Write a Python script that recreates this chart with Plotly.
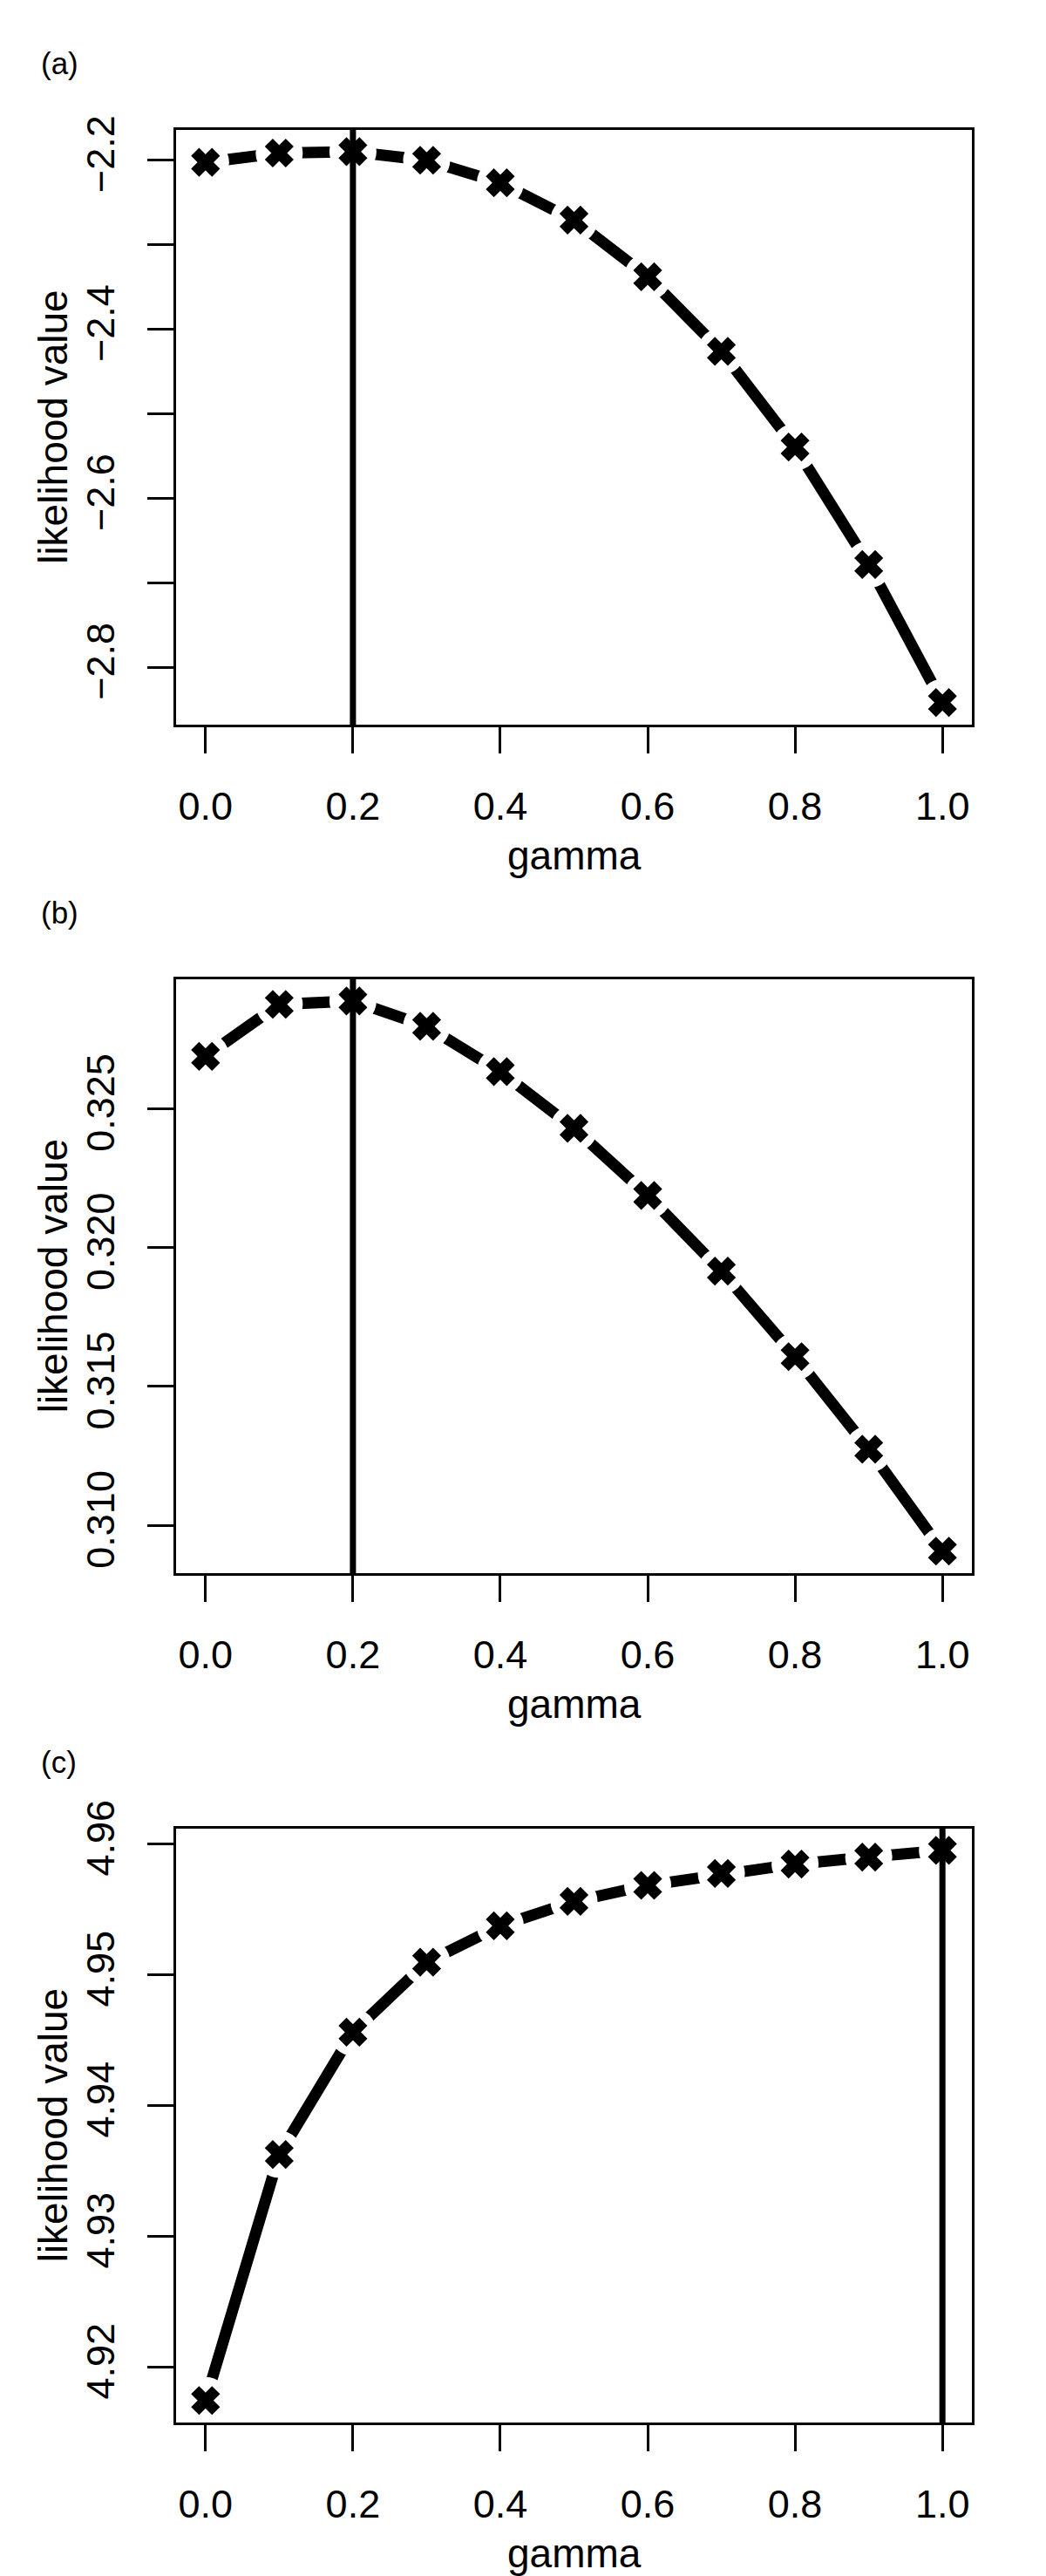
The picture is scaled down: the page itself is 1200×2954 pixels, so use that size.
"""Likelihood value against gamma for three data sets, R-style base graphics look."""

import plotly.graph_objects as go

# gamma grid
GAMMA = [0.0, 0.1, 0.2, 0.3, 0.4, 0.5, 0.6, 0.7, 0.8, 0.9, 1.0]

# likelihood values
LIK_A = [-2.2028, -2.1918, -2.1902, -2.2003, -2.2270, -2.2711, -2.3382, -2.4263, -2.5395, -2.6785, -2.8418]
LIK_B = [0.32688, 0.32875, 0.32887, 0.32796, 0.32633, 0.32429, 0.32187, 0.31915, 0.31607, 0.31274, 0.30907]
LIK_C = [4.91745, 4.93626, 4.94560, 4.95095, 4.95374, 4.95560, 4.95683, 4.95774, 4.95845, 4.95899, 4.95950]

# chosen gamma (vertical line) per panel
BEST_GAMMA = [0.2, 0.2, 1.0]
PANEL_LABELS = ["(a)", "(b)", "(c)"]

# axis ticks
X_TICKS = [0.0, 0.2, 0.4, 0.6, 0.8, 1.0]
X_TICKTEXT = ["0.0", "0.2", "0.4", "0.6", "0.8", "1.0"]
Y_TICKS_A = [-2.8, -2.7, -2.6, -2.5, -2.4, -2.3, -2.2]
Y_TICKTEXT_A = ["\u22122.8", "", "\u22122.6", "", "\u22122.4", "", "\u22122.2"]
Y_TICKS_B = [0.310, 0.315, 0.320, 0.325]
Y_TICKTEXT_B = ["0.310", "0.315", "0.320", "0.325"]
Y_TICKS_C = [4.92, 4.93, 4.94, 4.95, 4.96]
Y_TICKTEXT_C = ["4.92", "4.93", "4.94", "4.95", "4.96"]

W, H = 1200, 2954
FONT = "Liberation Sans, Arial, sans-serif"
# plot boxes in pixels (top, bottom) and shared left/right
BOX_X = (202, 1115)
BOX_Y = [(117, 807), (1102, 1791), (2087, 2776)]


def r_range(vals, frac=0.04):
    # R pads the data range by 4% on each side
    lo, hi = min(vals), max(vals)
    pad = (hi - lo) * frac
    return [lo - pad, hi + pad]


def px_x(v):
    return v / W


def px_y(v):
    return (H - v) / H


fig = go.Figure()
panels = [(LIK_A, Y_TICKS_A, Y_TICKTEXT_A),
          (LIK_B, Y_TICKS_B, Y_TICKTEXT_B),
          (LIK_C, Y_TICKS_C, Y_TICKTEXT_C)]

annotations = []
shapes = []
for i, (lik, yt, ytt) in enumerate(panels):
    n = "" if i == 0 else str(i + 1)
    xa, ya = "x" + n, "y" + n
    # line, white knock-out around points (type="b" gaps), then crosses
    fig.add_trace(go.Scatter(x=GAMMA, y=lik, xaxis=xa, yaxis=ya, mode="lines",
                             line=dict(color="black", width=13), showlegend=False, hoverinfo="skip"))
    fig.add_trace(go.Scatter(x=GAMMA, y=lik, xaxis=xa, yaxis=ya, mode="markers",
                             marker=dict(symbol="circle", size=54, color="white", line=dict(width=0)),
                             showlegend=False, hoverinfo="skip"))
    fig.add_trace(go.Scatter(x=GAMMA, y=lik, xaxis=xa, yaxis=ya, mode="markers",
                             marker=dict(symbol="x-thin", size=24, line=dict(width=13, color="black")),
                             showlegend=False))

    top, bot = BOX_Y[i]
    fig.update_layout(**{
        "xaxis" + n: dict(domain=[px_x(BOX_X[0]), px_x(BOX_X[1])], anchor=ya, range=[-0.04, 1.04],
                          tickvals=X_TICKS, ticktext=X_TICKTEXT, ticks="outside", ticklen=30,
                          tickwidth=3, tickcolor="black", showline=True, linewidth=3,
                          linecolor="black", mirror=True, showgrid=False, zeroline=False,
                          ticklabelstandoff=22, tickfont=dict(size=45, color="black", family=FONT)),
        "yaxis" + n: dict(domain=[px_y(bot), px_y(top)], anchor=xa, range=r_range(lik),
                          tickvals=yt, ticktext=ytt, tickangle=-90, ticks="outside", ticklen=30,
                          tickwidth=3, tickcolor="black", showline=True, linewidth=3,
                          linecolor="black", mirror=True, showgrid=False, zeroline=False,
                          ticklabelstandoff=20, tickfont=dict(size=45, color="black", family=FONT)),
    })

    shapes.append(dict(type="line", xref=xa, yref=ya + " domain", x0=BEST_GAMMA[i], x1=BEST_GAMMA[i],
                       y0=0, y1=1, line=dict(color="black", width=7), layer="above"))

    annotations.append(dict(text=PANEL_LABELS[i], xref="paper", yref="paper", x=px_x(45),
                            y=px_y(top - 77), xanchor="left", yanchor="middle",
                            showarrow=False, font=dict(size=35, color="black", family=FONT)))
    annotations.append(dict(text="likelihood value", xref="paper", yref="paper", x=px_x(61),
                            y=px_y((top + bot) / 2), xanchor="center", yanchor="middle",
                            textangle=-90, showarrow=False,
                            font=dict(size=46, color="black", family=FONT)))
    annotations.append(dict(text="gamma", xref="paper", yref="paper", x=px_x((BOX_X[0] + BOX_X[1]) / 2),
                            y=px_y(bot + 152), xanchor="center", yanchor="middle",
                            showarrow=False, font=dict(size=46, color="black", family=FONT)))

fig.update_layout(width=W, height=H, margin=dict(l=0, r=0, t=0, b=0),
                  paper_bgcolor="white", plot_bgcolor="white",
                  font=dict(family=FONT, color="black"),
                  shapes=shapes, annotations=annotations)

fig.write_html("out.html", config={"displayModeBar": False},
               post_script="document.body.style.margin='0';")
